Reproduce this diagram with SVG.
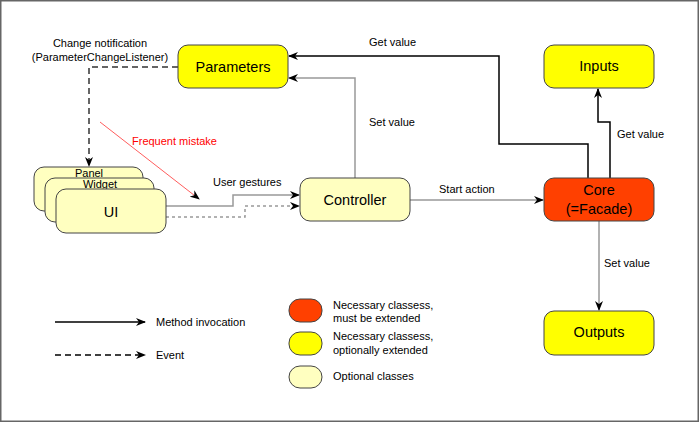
<svg xmlns="http://www.w3.org/2000/svg" width="699" height="422" viewBox="0 0 699 422">
<style>
text{font-family:"Liberation Sans",Arial,sans-serif;fill:#000}
.n{font-size:14.5px;text-anchor:middle}
.l{font-size:11px}
.box{stroke:#444;stroke-width:1}
.y{fill:#ffff00}
.o{fill:#ffffc0}
.r{fill:#ff4000}
.c{fill:none;stroke-width:1.5}
.blk{stroke:#000}
.gry{stroke:#999}
</style>
<defs>
<marker id="a" markerUnits="userSpaceOnUse" markerWidth="10" markerHeight="8" refX="9" refY="4" orient="auto">
<path d="M0,0 L10,4 L0,8 L3,4 z" fill="#000"/>
</marker>
</defs>
<rect x="0.75" y="0.75" width="697.5" height="420.5" fill="#fff" stroke="#666" stroke-width="1.5"/>

<g id="connectors">
<polyline class="c blk" points="588,178 588,144 499,144 499,56 289,56" marker-end="url(#a)"/>
<polyline class="c gry" points="355,178 355,78 289,78" marker-end="url(#a)"/>
<polyline class="c blk" points="610,178 610,122 598,122 598,89" marker-end="url(#a)"/>
<line class="c gry" x1="410" y1="200" x2="543" y2="200" marker-end="url(#a)"/>
<line class="c gry" x1="599" y1="221" x2="599" y2="310" marker-end="url(#a)"/>
<polyline class="c gry" points="166,206 233,206 233,195 299,195" marker-end="url(#a)"/>
<polyline class="c gry" points="166,217 245,217 245,206 299,206" stroke-dasharray="3,3" marker-end="url(#a)"/>
<polyline class="c" stroke="#333" points="178,67 89,67 89,166" stroke-dasharray="6,4" marker-end="url(#a)"/>
<line x1="100" y1="122" x2="199" y2="199" stroke="#ff3333" stroke-width="0.8" marker-end="url(#a)"/>
<text class="l" x="369" y="46">Get value</text>
<text class="l" x="369" y="126">Set value</text>
<text class="l" x="617" y="138">Get value</text>
<text class="l" x="439" y="193">Start action</text>
<text class="l" x="604" y="267">Set value</text>
<text class="l" x="213" y="186">User gestures</text>
<text class="l" x="100" y="47" text-anchor="middle">Change notification</text>
<text class="l" x="100" y="61" text-anchor="middle">(ParameterChangeListener)</text>
<text class="l" x="132" y="145" style="fill:#ff0000">Frequent mistake</text>
</g>

<g id="parameters">
<rect class="box y" x="178" y="45" width="110" height="43" rx="10"/>
<text class="n" x="233" y="72">Parameters</text>
</g>
<g id="inputs">
<rect class="box y" x="544" y="45" width="110" height="43" rx="10"/>
<text class="n" x="599" y="71">Inputs</text>
</g>
<g id="core">
<rect class="box r" x="544" y="178" width="110" height="43" rx="10"/>
<text class="n" x="599" y="195">Core</text>
<text class="n" x="599" y="214">(=Facade)</text>
</g>
<g id="outputs">
<rect class="box y" x="544" y="311" width="110" height="44" rx="10"/>
<text class="n" x="599" y="337">Outputs</text>
</g>
<g id="controller">
<rect class="box o" x="300" y="178" width="110" height="43" rx="10"/>
<text class="n" x="355" y="205">Controller</text>
</g>
<g id="panel">
<rect class="box o" x="34" y="167" width="109" height="44" rx="10"/>
<text class="l" x="89" y="177" text-anchor="middle">Panel</text>
</g>
<g id="widget">
<rect class="box o" x="45" y="178" width="109" height="44" rx="10"/>
<text class="l" x="100" y="188" text-anchor="middle">Widget</text>
</g>
<g id="ui">
<rect class="box o" x="56" y="189" width="110" height="44" rx="10"/>
<text class="n" x="111" y="217">UI</text>
</g>

<g id="legend">
<line x1="55" y1="322" x2="145" y2="322" stroke="#000" stroke-width="1.5" marker-end="url(#a)"/>
<text class="l" x="156" y="326">Method invocation</text>
<line x1="55" y1="355" x2="145" y2="355" stroke="#000" stroke-width="1.5" stroke-dasharray="6,4" marker-end="url(#a)"/>
<text class="l" x="156" y="359">Event</text>
<rect class="box r" x="289" y="299" width="33" height="23" rx="11"/>
<rect class="box y" x="289" y="332" width="33" height="23" rx="11"/>
<rect class="box o" x="289" y="366" width="33" height="22" rx="11"/>
<text class="l" x="333" y="309">Necessary classess,</text>
<text class="l" x="333" y="322">must be extended</text>
<text class="l" x="333" y="340">Necessary classess,</text>
<text class="l" x="333" y="354">optionally extended</text>
<text class="l" x="333" y="380">Optional classes</text>
</g>
</svg>
